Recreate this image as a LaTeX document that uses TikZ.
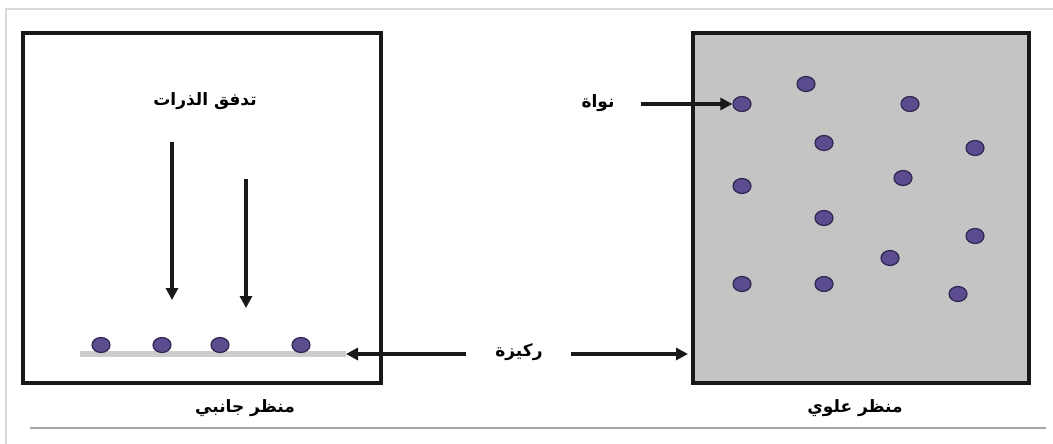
\documentclass[tikz,border=0pt]{standalone}
\usepackage{fontspec}
\newfontfamily\arabicfont[Script=Arabic]{DejaVu Sans}
\TeXXeTstate=1
\usetikzlibrary{arrows.meta,shapes.geometric}
\definecolor{frameline}{HTML}{DADADA}
\definecolor{panelgray}{HTML}{C4C4C4}
\definecolor{substrategray}{HTML}{CCCCCC}
\definecolor{nucfill}{HTML}{5C4B8E}
\definecolor{nucedge}{HTML}{2F2650}
\tikzset{
  panel/.style={draw=black!90, line width=3.2pt},
  nucleus/.style={ellipse, draw=nucedge, fill=nucfill, line width=1.2pt,
    minimum width=18pt, minimum height=15pt, inner sep=0pt},
  label/.style={font=\arabicfont\bfseries\fontsize{17}{20}\selectfont, inner sep=1pt},
  pointer/.style={draw=black!90, line width=3.2pt, -{Triangle[length=12pt,width=12pt]}},
}
\begin{document}
\begin{tikzpicture}[x=1pt, y=-1pt]
\useasboundingbox (0,0) rectangle (1053,444);
% faint outer sheet edge
\draw[frameline, line width=1.8pt] (6,444) -- (6,9) -- (1053,9);
\draw[gray!70, line width=1.2pt] (30,428) -- (1046,428);

% side view panel
\draw[panel] (23,33) rectangle (381,383);
% top view panel
\draw[panel, fill=panelgray] (693,33) rectangle (1029,383);

% substrate strip in the side view
\coordinate (subL) at (80,354);
\coordinate (subR) at (346,354);
\draw[substrategray, line width=6pt] (subL) -- (subR);

% nuclei sitting on the substrate
\node[nucleus] (s1) at (101,345) {};
\node[nucleus] (s2) at (162,345) {};
\node[nucleus] (s3) at (220,345) {};
\node[nucleus] (s4) at (301,345) {};

% flux label and arrows
\node[label] (flux) at (205,101) {\beginR تدفق الذرات\endR};
\coordinate (f1a) at (172,142);
\coordinate (f1b) at (172,300);
\coordinate (f2a) at (246,179);
\coordinate (f2b) at (246,308);
\draw[pointer] (f1a) -- (f1b);
\draw[pointer] (f2a) -- (f2b);

% nuclei in the top view
\node[nucleus] (n1) at (742,104) {};
\node[nucleus] (n2) at (806,84) {};
\node[nucleus] (n3) at (910,104) {};
\node[nucleus] (n4) at (824,143) {};
\node[nucleus] (n5) at (975,148) {};
\node[nucleus] (n6) at (742,186) {};
\node[nucleus] (n7) at (903,178) {};
\node[nucleus] (n8) at (824,218) {};
\node[nucleus] (n9) at (975,236) {};
\node[nucleus] (n10) at (890,258) {};
\node[nucleus] (n11) at (742,284) {};
\node[nucleus] (n12) at (824,284) {};
\node[nucleus] (n13) at (958,294) {};

% nucleus label
\node[label] (nuc) at (598,103) {\beginR نواة\endR};
\coordinate (nucA) at (641,104);
\draw[pointer] (nucA) -- (n1.west);

% substrate label with arrows to both views
\node[label] (sub) at (519,352) {\beginR ركيزة\endR};
\coordinate (subA) at (466,354);
\coordinate (subB) at (571,354);
\coordinate (subC) at (688,354);
\draw[pointer] (subA) -- (subR);
\draw[pointer] (subB) -- (subC);

% view captions
\node[label] (side) at (245,408) {\beginR منظر جانبي\endR};
\node[label] (top) at (855,408) {\beginR منظر علوي\endR};
\end{tikzpicture}
\end{document}
